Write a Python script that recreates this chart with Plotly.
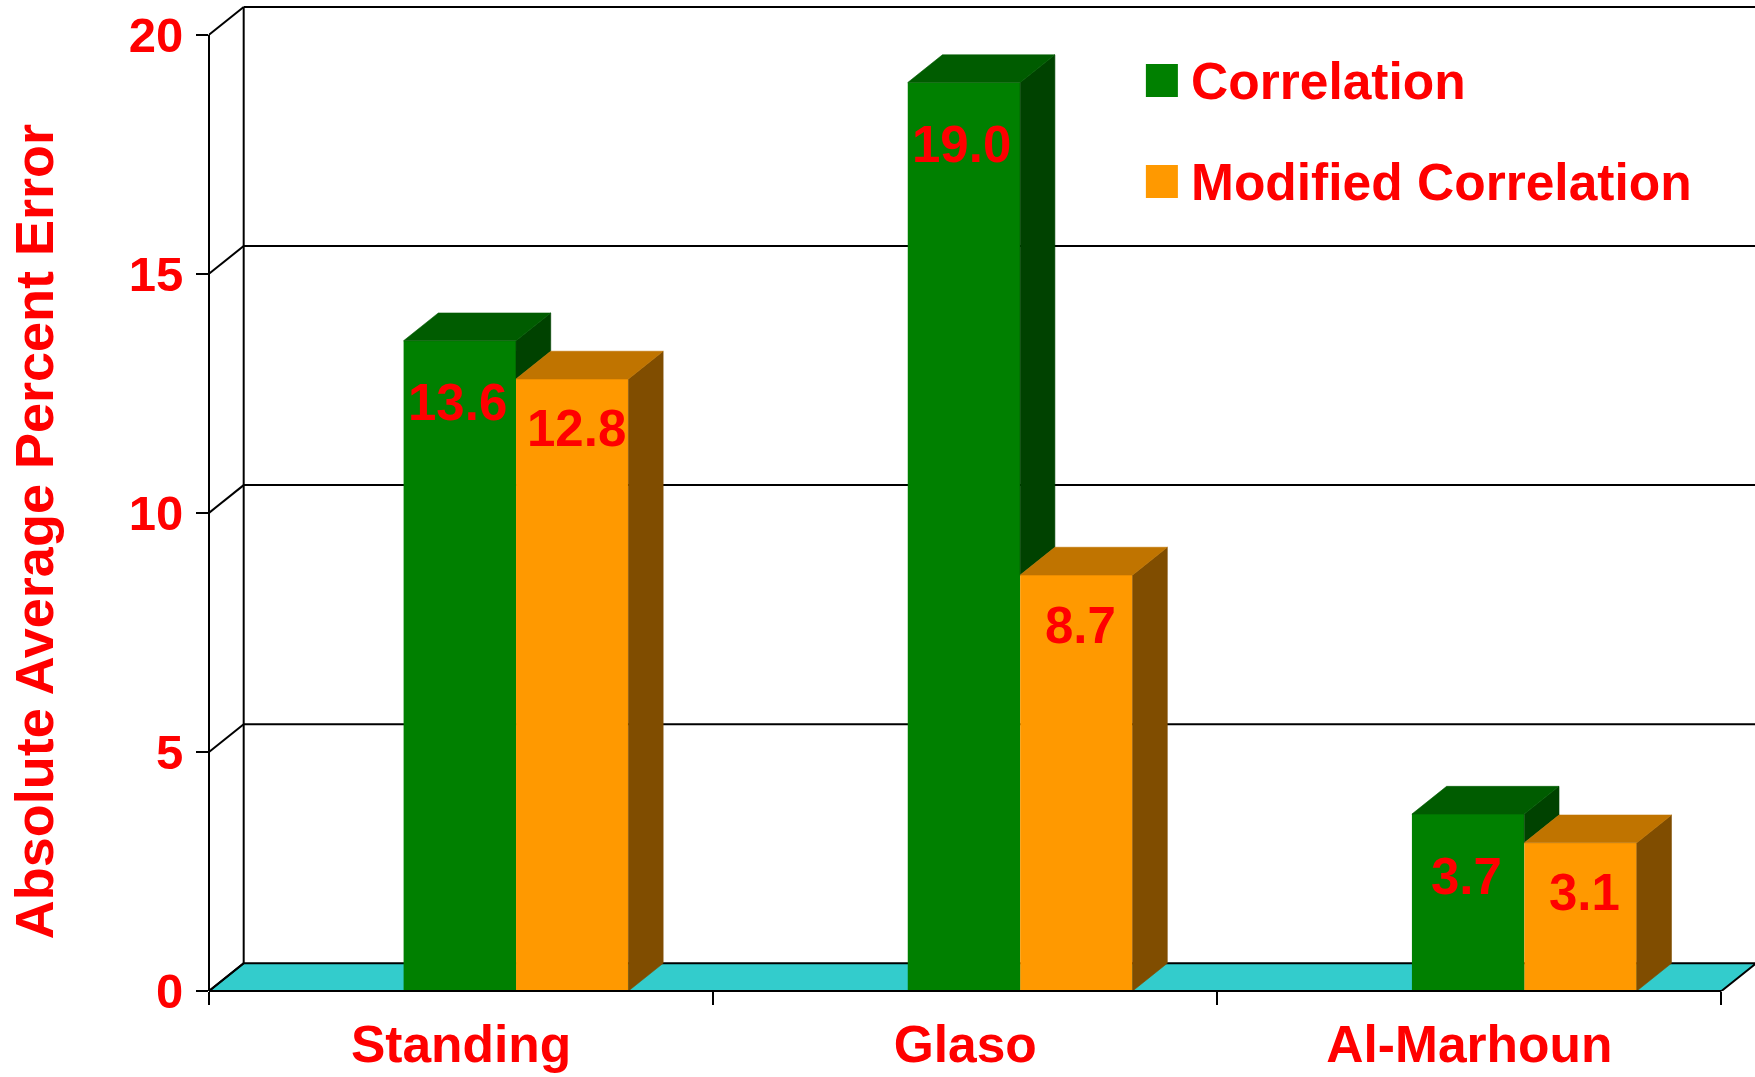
import plotly.graph_objects as go

# ---- data -------------------------------------------------------------
categories = ["Standing", "Glaso", "Al-Marhoun"]
correlation = [13.6, 19.0, 3.7]
modified = [12.8, 8.7, 3.1]
series_names = ["Correlation", "Modified Correlation"]
y_ticks = [0, 5, 10, 15, 20]

# ---- geometry / style -------------------------------------------------
W, H = 1755, 1077
ML, MB = 209.3, 86.4
X_RANGE = [-0.5, 2.5665]
Y_RANGE = [0, 20.726]
DX, DY = 0.0688, 0.58          # depth of the pseudo-3D box, in data units
BAR_W = 0.223
OFFSETS = [-0.114, 0.109]
LABEL_SHIFT = [-62, -50]
LABEL_XSHIFT = [-2, 4]

FRONT = ["#008000", "#FF9900"]
TOP = ["#005C00", "#C07400"]
SIDE = ["#004200", "#804D00"]
FLOOR = "#33CCCC"
RED = "#FF0000"
FONT = "Liberation Sans, Arial, sans-serif"

series = [correlation, modified]
x_pos = list(range(len(categories)))
x_left, x_right = X_RANGE[0], X_RANGE[0] + len(categories)


def px(xp):
    return (xp - ML) / (W - ML)


def py(yp):
    return (H - MB - yp) / (H - MB)


fig = go.Figure()

# front faces of the bars
for s, vals in enumerate(series):
    fig.add_trace(go.Bar(
        x=x_pos, y=vals, name=series_names[s], width=BAR_W, offset=OFFSETS[s],
        marker=dict(color=FRONT[s], line=dict(width=0)), showlegend=False,
    ))


def face(xs, ys, color):
    fig.add_trace(go.Scatter(
        x=xs, y=ys, mode="lines", fill="toself", fillcolor=color,
        line=dict(width=0.6, color=color), hoverinfo="skip", showlegend=False,
    ))


# top and side faces, back to front so nearer faces cover farther ones
for i in x_pos:
    for s, vals in enumerate(series):
        v = vals[i]
        xl = i + OFFSETS[s]
        xr = xl + BAR_W
        # side face: only the part not hidden by the next bar in the group
        low = 0.0
        if s + 1 < len(series):
            low = min(series[s + 1][i], v)
        if v > low:
            face([xr, xr + DX, xr + DX, xr, xr],
                 [low, low + DY, v + DY, v, low], SIDE[s])
        face([xl, xr, xr + DX, xl + DX, xl],
             [v, v, v + DY, v + DY, v], TOP[s])

shapes = []
# floor
shapes.append(dict(
    type="path", layer="below", xref="x", yref="y",
    path=f"M {x_left},0 L {x_right},0 L {x_right + DX},{DY} L {x_left + DX},{DY} Z",
    fillcolor=FLOOR, line=dict(color="black", width=2),
))
# back wall grid lines
for v in y_ticks[1:]:
    shapes.append(dict(type="line", layer="below", xref="x", yref="y",
                       x0=x_left + DX, x1=X_RANGE[1] + 0.01, y0=v + DY, y1=v + DY,
                       line=dict(color="black", width=2)))
# side wall: diagonals from each tick to the back wall
for v in y_ticks:
    shapes.append(dict(type="line", layer="below", xref="x", yref="y",
                       x0=x_left, x1=x_left + DX, y0=v, y1=v + DY,
                       line=dict(color="black", width=2)))
shapes.append(dict(type="line", layer="below", xref="x", yref="y",
                   x0=x_left + DX, x1=x_left + DX, y0=DY, y1=y_ticks[-1] + DY,
                   line=dict(color="black", width=2)))
# front axes
shapes.append(dict(type="line", layer="above", xref="paper", yref="y",
                   x0=0, x1=0, y0=0, y1=y_ticks[-1],
                   line=dict(color="black", width=2)))
shapes.append(dict(type="line", layer="above", xref="x", yref="paper",
                   x0=x_left, x1=x_right, y0=0, y1=0,
                   line=dict(color="black", width=2)))

# legend keys
legend_rows = [(64, 97), (165, 198)]
for s, (y0, y1) in enumerate(legend_rows):
    shapes.append(dict(type="rect", xref="paper", yref="paper",
                       x0=px(1146), x1=px(1178), y0=py(y1), y1=py(y0),
                       fillcolor=FRONT[s], line=dict(width=0)))

annotations = []
for s, (y0, y1) in enumerate(legend_rows):
    annotations.append(dict(
        xref="paper", yref="paper", x=px(1189), y=py((y0 + y1) / 2),
        xanchor="left", yanchor="middle", showarrow=False,
        text=series_names[s],
        font=dict(family=FONT, size=51.5, color=RED, weight="bold"),
    ))

# value labels
for s, vals in enumerate(series):
    for i, v in enumerate(vals):
        annotations.append(dict(
            xref="x", yref="y", x=i + OFFSETS[s] + BAR_W / 2, y=v,
            yshift=LABEL_SHIFT[s], xshift=LABEL_XSHIFT[s],
            xanchor="center", yanchor="middle",
            showarrow=False, text=f"{v:.1f}",
            font=dict(family=FONT, size=51, color=RED, weight="bold"),
        ))

# y axis title
annotations.append(dict(
    xref="paper", yref="paper", x=0, y=py(532), xshift=-175,
    xanchor="center", yanchor="middle", textangle=-90, showarrow=False,
    text="Absolute Average Percent Error",
    font=dict(family=FONT, size=54, color=RED, weight="bold"),
))

fig.update_layout(
    width=W, height=H,
    margin=dict(l=ML, r=0, t=0, b=MB, pad=0),
    paper_bgcolor="white", plot_bgcolor="white",
    barmode="overlay",
    showlegend=False,
    shapes=shapes,
    annotations=annotations,
    font=dict(family=FONT, color=RED),
    xaxis=dict(
        range=X_RANGE, showgrid=False, zeroline=False, showline=False,
        tickmode="array", tickvals=x_pos, ticktext=categories,
        ticks="", ticklabelstandoff=18, automargin=False,
        tickfont=dict(family=FONT, size=51.5, color=RED, weight="bold"),
        minor=dict(tickmode="array", tickvals=[x_left + k for k in range(len(categories) + 1)],
                   ticks="outside", ticklen=13, tickwidth=2, tickcolor="black",
                   showgrid=False),
        fixedrange=True,
    ),
    yaxis=dict(
        range=Y_RANGE, showgrid=False, zeroline=False, showline=False,
        tickmode="array", tickvals=y_ticks,
        ticks="outside", ticklen=12, tickwidth=2, tickcolor="black",
        ticklabelstandoff=3, automargin=False,
        tickfont=dict(family=FONT, size=49, color=RED, weight="bold"),
        fixedrange=True,
    ),
)

fig.write_html("out.html")
